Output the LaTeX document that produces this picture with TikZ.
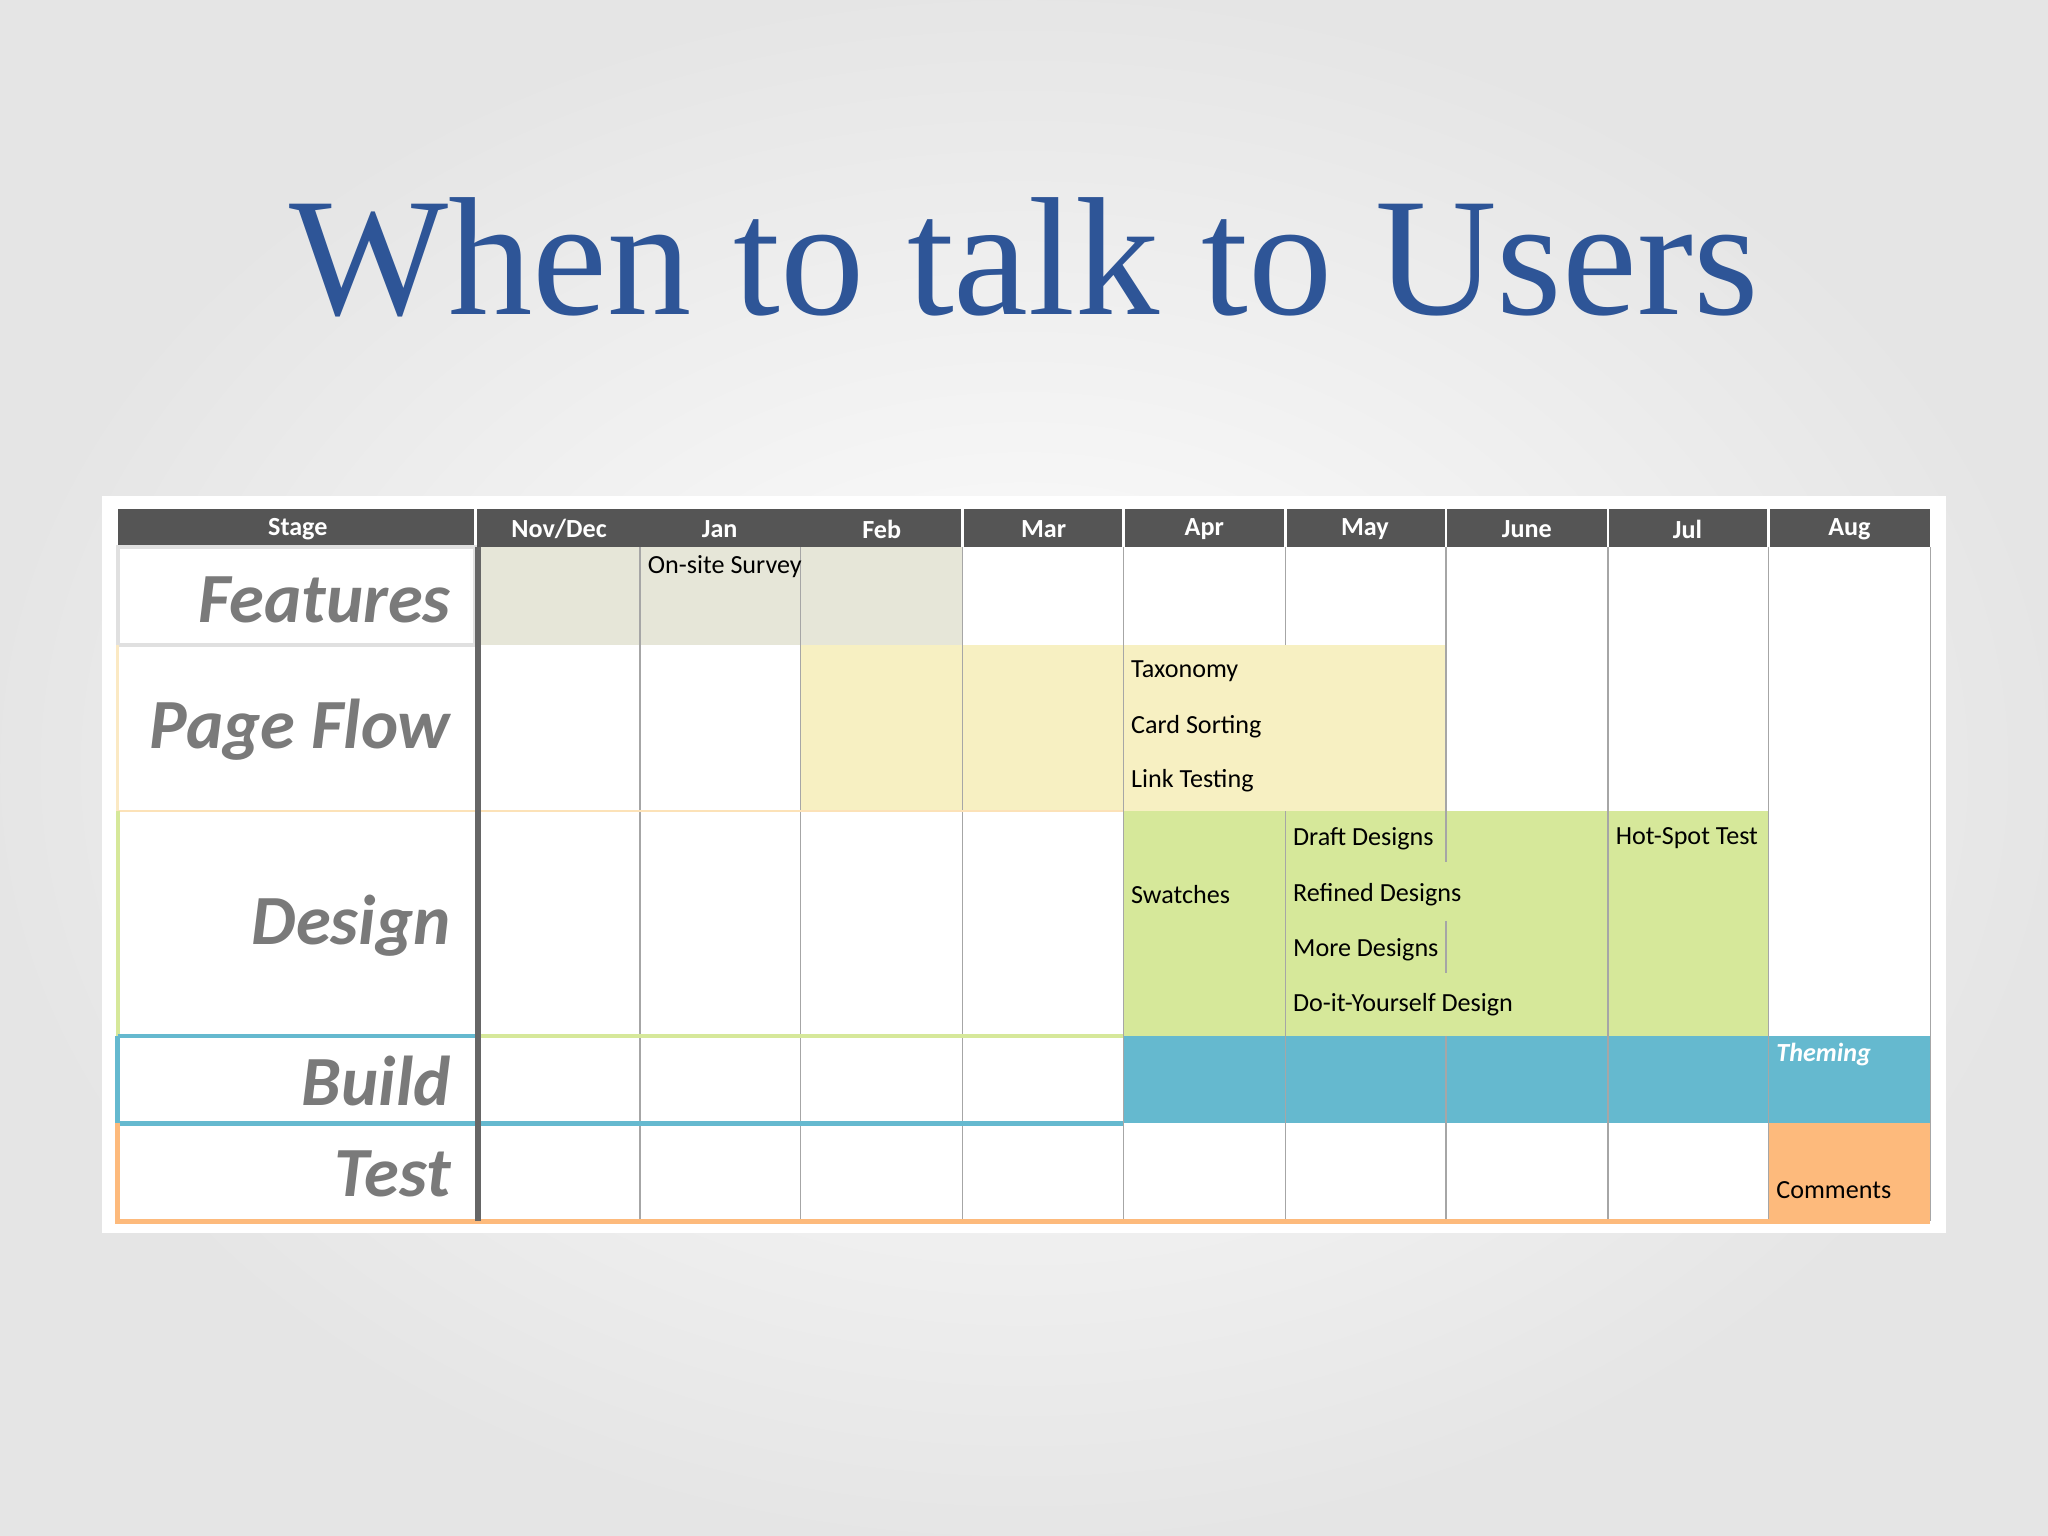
\documentclass[tikz,border=0pt]{standalone}
\usepackage{fontspec}
\setmainfont{Carlito}
\newfontfamily\titlefont{Liberation Serif}
\definecolor{titleblue}{HTML}{2E5597}
\definecolor{hdr}{HTML}{555555}
\definecolor{featc}{HTML}{E6E6D8}
\definecolor{pagec}{HTML}{F7F0C2}
\definecolor{desc}{HTML}{D6E89A}
\definecolor{buildc}{HTML}{65B9CF}
\definecolor{testc}{HTML}{FDBA7C}
\definecolor{lblc}{HTML}{7A7A7A}
\begin{document}
\begin{tikzpicture}[x=0.5pt,y=-0.5pt,
  hdrtxt/.style={text=white,font=\bfseries\fontsize{10}{11}\selectfont},
  stagelbl/.style={anchor=east,text=lblc,font=\bfseries\itshape\fontsize{27}{30}\selectfont},
  celltxt/.style={anchor=west,font=\fontsize{10}{11}\selectfont},
  gridl/.style={draw=gray!70,line width=0.5pt}]
\useasboundingbox (0,0) rectangle (1568,1176);
\shade[inner color=white,outer color=black!10] (0,0) rectangle (1568,1176);
\node[text=titleblue,font=\titlefont\fontsize{64.5}{66}\selectfont] (title) at (784,197) {When to talk to Users};
% table bg
\fill[white] (78,380) rectangle (1490,944);
% header
\fill[hdr] (90,390) rectangle (1478,419);
\node[hdrtxt] (hs) at (228,405) {Stage};
\foreach \x/\t [count=\i] in {428/{Nov/Dec},551/Jan,675/Feb,799/Mar,922/Apr,1045/May,1169/June,1292/Jul,1416/Aug}
  \node[hdrtxt] (h\i) at (\x,405) {\t};
\foreach \x in {364,737,860,984,1107,1231,1354} \draw[white,line width=1pt] (\x,390) -- (\x,419);
% shaded cells
\fill[featc] (367,419) rectangle (737,494);
\fill[pagec] (613,494) rectangle (1107,621);
\fill[desc] (860,621) rectangle (1354,793);
\fill[buildc] (860,793) rectangle (1478,860);
\fill[testc] (1354,860) rectangle (1478,935);
% vertical grid lines
\foreach \x in {490,613,737,860,1231,1354} \draw[gridl] (\x,419) -- (\x,935);
\draw[gridl] (984,419) -- (984,494) (984,621) -- (984,935);
\draw[gridl] (1107,419) -- (1107,621) (1107,621) -- (1107,660) (1107,705) -- (1107,745) (1107,793) -- (1107,935);
\draw[gridl] (1478,419) -- (1478,935);
% row borders
\draw[black!12,line width=1.5pt] (90,419) rectangle (364,494);
\draw[pagec!80!orange!60,line width=1pt] (90,494) -- (90,621);
\draw[pagec!70!orange!60,line width=1pt] (90,621) -- (860,621);
\draw[desc,line width=1.5pt] (90,621) -- (90,793) -- (860,793);
\draw[buildc,line width=2pt] (90,793) -- (90,860) -- (860,860);
\draw[buildc,line width=1.5pt] (90,793) -- (364,793);
\draw[testc,line width=2pt] (90,860) -- (90,935) -- (1478,935);
\draw[hdr!90,line width=2.5pt] (366,419) -- (366,935);
% stage labels
\node[stagelbl] (features) at (352,459) {Features};
\node[stagelbl] (pageflow) at (352,559) {Page Flow};
\node[stagelbl] (design) at (352,709) {Design};
\node[stagelbl] (build) at (352,828) {Build};
\node[stagelbl] (test) at (352,899) {Test};
% cell texts
\node[celltxt] (survey) at (489,434) {On-site Survey};
\node[celltxt] (tax) at (859,514) {Taxonomy};
\node[celltxt] (card) at (859,556) {Card Sorting};
\node[celltxt] (link) at (859,598) {Link Testing};
\node[celltxt] (draft) at (983,642) {Draft Designs};
\node[celltxt] (sw) at (859,685) {Swatches};
\node[celltxt] (ref) at (983,685) {Refined Designs};
\node[celltxt] (more) at (983,727) {More Designs};
\node[celltxt] (diy) at (983,769) {Do-it-Yourself Design};
\node[celltxt] (hot) at (1230,642) {Hot-Spot Test};
\node[celltxt,text=white,font=\bfseries\itshape\fontsize{10}{11}\selectfont] (theme) at (1353,807) {Theming};
\node[celltxt] (comm) at (1353,911) {Comments};
\end{tikzpicture}
\end{document}
